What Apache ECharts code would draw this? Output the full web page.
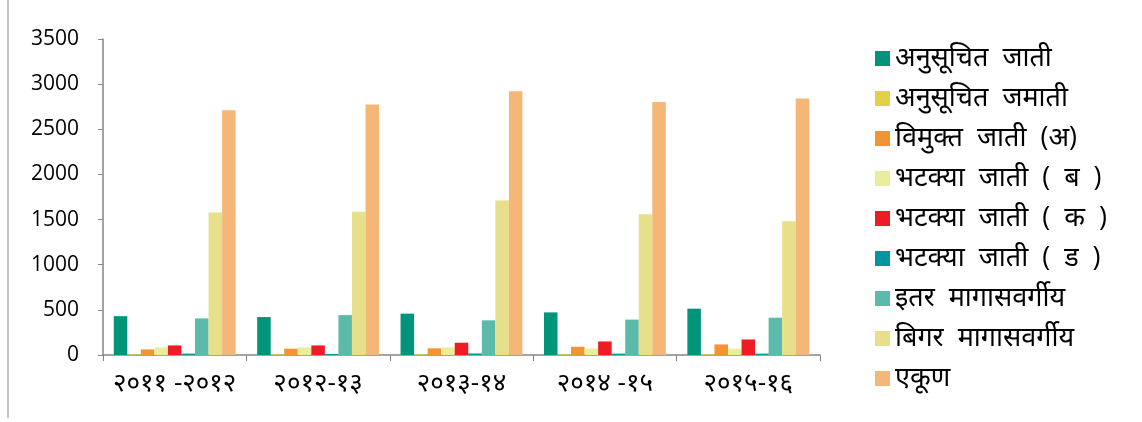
<!DOCTYPE html>
<html>
<head>
<meta charset="utf-8">
<script src="https://cdn.jsdelivr.net/npm/echarts@6/dist/echarts.min.js"></script>
<style>
html,body{margin:0;padding:0;background:#fff;}
#c{width:1142px;height:422px;}
</style>
</head>
<body>
<div id="c"></div>
<script>
const categories = ['२०११ -२०१२', '२०१२-१३', '२०१३-१४', '२०१४ -१५', '२०१५-१६'];
const yTicks = [0, 500, 1000, 1500, 2000, 2500, 3000, 3500];

const seriesNames = [
  'अनुसूचित  जाती',
  'अनुसूचित  जमाती',
  'विमुक्त  जाती  (अ)',
  'भटक्या  जाती  (  ब  )',
  'भटक्या  जाती  (  क  )',
  'भटक्या  जाती  (  ड  )',
  'इतर  मागासवर्गीय',
  'बिगर  मागासवर्गीय',
  'एकूण'
];
const scheduledCaste   = [430, 420, 458, 472, 513];
const scheduledTribe   = [7, 7, 8, 8, 8];
const vimuktaA         = [62, 70, 74, 91, 117];
const bhatakyaB        = [85, 84, 84, 72, 70];
const bhatakyaC        = [106, 106, 136, 150, 172];
const bhatakyaD        = [15, 12, 17, 15, 15];
const otherBackward    = [405, 442, 384, 392, 413];
const nonBackward      = [1578, 1586, 1711, 1560, 1482];
const total            = [2711, 2774, 2922, 2803, 2842];

const seriesData = [scheduledCaste, scheduledTribe, vimuktaA, bhatakyaB, bhatakyaC, bhatakyaD, otherBackward, nonBackward, total];
const colors = ['#00957A', '#E2D148', '#F39331', '#EAEE9C', '#EE1D25', '#0096A0', '#5BBAA9', '#E8DF8B', '#F5B778'];

const chart = echarts.init(document.getElementById('c'), null, {renderer: 'canvas'});
const font = "'Open Sans', 'Noto Sans', sans-serif";
chart.setOption({
  animation: false,
  color: colors,
  grid: {left: 103, right: 322, top: 39, bottom: 67},
  graphic: [{
    type: 'line', shape: {x1: 8, y1: 0, x2: 8, y2: 418},
    style: {stroke: '#8a8a8a', lineWidth: 1}
  }],
  legend: {
    orient: 'vertical', left: 875, top: 45, height: 380, padding: 0,
    itemWidth: 15, itemHeight: 15, itemGap: 13,
    icon: 'rect',
    textStyle: {fontSize: 27, color: '#000', fontFamily: font, lineHeight: 26},
    data: seriesNames
  },
  xAxis: {
    type: 'category', data: categories,
    axisLine: {lineStyle: {color: '#868686', width: 1.5}},
    axisTick: {show: true, length: 6, lineStyle: {color: '#868686'}},
    axisLabel: {color: '#000', fontSize: 26, fontFamily: font, margin: 16, interval: 0}
  },
  yAxis: {
    type: 'value', min: yTicks[0], max: yTicks[yTicks.length - 1], interval: 500,
    splitLine: {show: false},
    axisLine: {show: true, lineStyle: {color: '#868686', width: 1.5}},
    axisTick: {show: true, length: 5, lineStyle: {color: '#868686'}},
    axisLabel: {color: '#000', fontSize: 21, fontFamily: font, margin: 24, formatter: v => String(v)}
  },
  series: seriesNames.map((n, i) => ({
    name: n, type: 'bar', data: seriesData[i],
    barGap: '0%', barCategoryGap: '15%',
    itemStyle: {color: colors[i]}
  }))
});
</script>
</body>
</html>
